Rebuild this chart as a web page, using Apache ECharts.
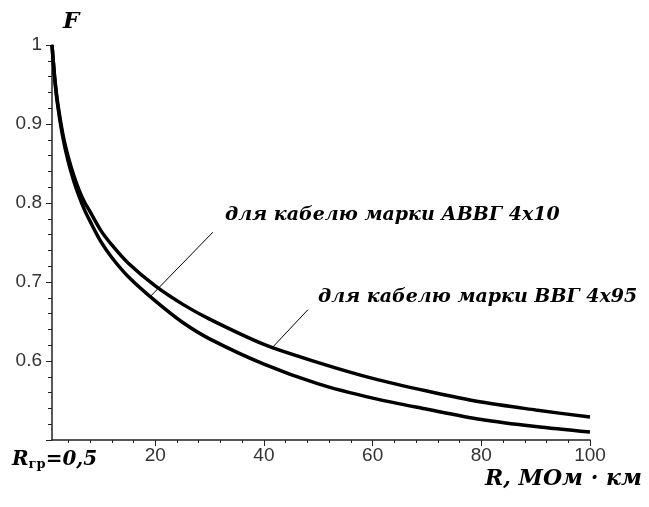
<!DOCTYPE html>
<html>
<head>
<meta charset="utf-8">
<script src="https://cdn.jsdelivr.net/npm/echarts@6/dist/echarts.min.js"></script>
<style>
  html, body { margin: 0; padding: 0; background: #fff; }
  #chart { width: 649px; height: 507px; }
</style>
</head>
<body>
<div id="chart"></div>
<script>
var chartDom = document.getElementById('chart');
var myChart = echarts.init(chartDom);
var option;

// R, МОм·км
const rValues = [1, 1.5, 2, 3, 4, 5, 6, 7, 8, 10, 12, 15, 20, 25, 30, 40, 50, 60, 70, 80, 90, 100];
// F для кабелю марки ВВГ 4x95 (верхня крива)
const fVVG = [1.000, 0.959, 0.929, 0.887, 0.858, 0.835, 0.816, 0.801, 0.789, 0.765, 0.747, 0.724, 0.695,
  0.672, 0.653, 0.621, 0.598, 0.578, 0.562, 0.548, 0.538, 0.529];
// F для кабелю марки АВВГ 4x10 (нижня крива)
const fAVVG = [1.000, 0.957, 0.926, 0.883, 0.852, 0.828, 0.808, 0.791, 0.777, 0.751, 0.731, 0.707, 0.676,
  0.649, 0.628, 0.596, 0.571, 0.553, 0.539, 0.526, 0.517, 0.510];

const xLabelValues = [20, 40, 60, 80, 100];
const xMinorTicks = [4, 8, 12, 16, 24, 28, 32, 36, 44, 48, 52, 56, 64, 68, 72, 76, 84, 88, 92, 96];

// leader lines [from, to] in data coords
const leaderAVVG = [[30.6, 0.763], [19.0, 0.681]];
const leaderVVG = [[48.1, 0.665], [41.4, 0.616]];

const serif = '"DejaVu Serif", "Liberation Serif", serif';
const sans = '"Liberation Sans", Arial, sans-serif';
const curveStyle = { color: '#000', width: 3.5 };

function pairs(xs, ys) {
  return xs.map(function (x, i) { return [x, ys[i]]; });
}

option = {
  backgroundColor: '#fff',
  animation: false,
  grid: { left: 52, right: 59, top: 45, bottom: 67 },
  xAxis: [
    {
      type: 'value',
      min: 1,
      max: 100,
      axisLine: { onZero: false, lineStyle: { color: '#222', width: 1.5 } },
      axisTick: { customValues: xLabelValues, length: 6, lineStyle: { color: '#222' } },
      axisLabel: {
        customValues: xLabelValues,
        margin: 6,
        color: '#333',
        fontSize: 19,
        fontFamily: sans
      },
      splitLine: { show: false }
    },
    {
      type: 'value',
      min: 1,
      max: 100,
      position: 'bottom',
      axisLine: { show: false },
      axisTick: { customValues: xMinorTicks, length: 3, lineStyle: { color: '#222' } },
      axisLabel: { show: false },
      splitLine: { show: false }
    }
  ],
  yAxis: {
    type: 'value',
    min: 0.5,
    max: 1,
    interval: 0.1,
    axisLine: { show: true, onZero: false, lineStyle: { color: '#222', width: 1.5 } },
    axisTick: { show: true, length: 6, lineStyle: { color: '#222' } },
    minorTick: { show: true, splitNumber: 5, length: 4, lineStyle: { color: '#222' } },
    axisLabel: {
      showMinLabel: false,
      margin: 10,
      color: '#333',
      fontSize: 19,
      fontFamily: sans
    },
    splitLine: { show: false }
  },
  series: [
    {
      name: 'ВВГ 4x95',
      type: 'line',
      smooth: 0.3,
      symbol: 'none',
      lineStyle: curveStyle,
      data: pairs(rValues, fVVG),
      markLine: {
        silent: true,
        symbol: ['none', 'none'],
        label: { show: false },
        lineStyle: { color: '#000', width: 1, type: 'solid' },
        data: [[{ coord: leaderVVG[0] }, { coord: leaderVVG[1] }]]
      }
    },
    {
      name: 'АВВГ 4x10',
      type: 'line',
      smooth: 0.3,
      symbol: 'none',
      lineStyle: curveStyle,
      data: pairs(rValues, fAVVG),
      markLine: {
        silent: true,
        symbol: ['none', 'none'],
        label: { show: false },
        lineStyle: { color: '#000', width: 1, type: 'solid' },
        data: [[{ coord: leaderAVVG[0] }, { coord: leaderAVVG[1] }]]
      }
    }
  ],
  graphic: [
    {
      type: 'text', left: 63, top: 11,
      style: { text: 'F', font: 'bold italic 23px ' + serif, fill: '#000' }
    },
    {
      type: 'text', left: 12, top: 450,
      style: {
        text: '{r|R}{s|гр}{r|=0,5}',
        rich: {
          r: { font: 'bold italic 20px ' + serif, fill: '#000' },
          s: { font: 'bold 13px ' + serif, fill: '#000', verticalAlign: 'bottom', padding: [10, 0, 0, 0] }
        }
      }
    },
    {
      type: 'text', left: 485, top: 468,
      style: { text: 'R, МОм · км', font: 'bold italic 22px ' + serif, fill: '#000' }
    },
    {
      type: 'text', left: 225, top: 206,
      style: { text: 'для кабелю марки АВВГ 4x10', font: 'bold italic 19px ' + serif, fill: '#000' }
    },
    {
      type: 'text', left: 318, top: 288,
      style: { text: 'для кабелю марки ВВГ 4x95', font: 'bold italic 19px ' + serif, fill: '#000' }
    }
  ]
};

option && myChart.setOption(option);
</script>
</body>
</html>
